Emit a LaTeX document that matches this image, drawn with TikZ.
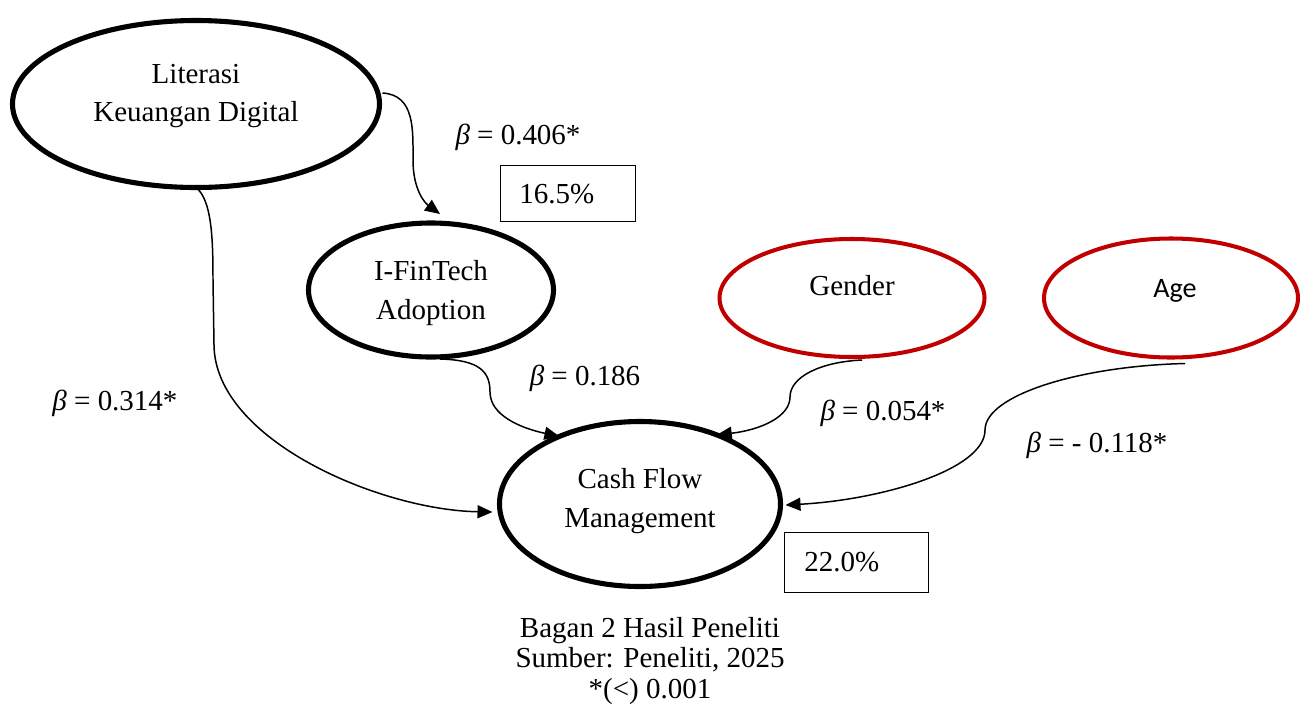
\documentclass[tikz,border=0pt]{standalone}
\usepackage{fontspec}
\setmainfont{Liberation Serif}
\newfontfamily\agefont{Carlito}
\usetikzlibrary{shapes.geometric,arrows.meta}
\definecolor{dred}{HTML}{C00000}
\begin{document}
\begin{tikzpicture}[x=0.02cm,y=-0.02cm,
  every node/.style={font=\fontsize{16.5}{22}\selectfont},
  blackell/.style={ellipse,draw=black,line width=2.9pt,inner sep=0pt,outer sep=0pt},
  redell/.style={ellipse,draw=dred,line width=2.3pt,inner sep=0pt,outer sep=0pt},
  lbl/.style={align=center,inner sep=0pt},
  valbox/.style={draw,line width=0.55pt,inner sep=0pt,minimum height=56*0.02cm},
  conn/.style={line width=0.85pt,-{Triangle[length=0.3cm,width=0.26cm]}}]
\useasboundingbox (0,0) rectangle (1300,707);
% ellipses
\node[blackell,minimum width=367*0.02cm,minimum height=167*0.02cm] (lit) at (196,104) {};
\node[lbl] (littext) at (196,96) {Literasi\\Keuangan Digital};
\node[blackell,minimum width=245*0.02cm,minimum height=134*0.02cm] (fin) at (431,290) {};
\node[lbl] (fintext) at (431,293) {I-FinTech\\Adoption};
\node[redell,minimum width=265*0.02cm,minimum height=118*0.02cm] (gen) at (852,298) {};
\node[lbl] (gentext) at (852,286) {Gender};
\node[redell,minimum width=254*0.02cm,minimum height=119*0.02cm] (age) at (1171,298) {};
\node[lbl,font=\agefont\fontsize{16}{20}\selectfont] (agetext) at (1175,291) {Age};
\node[blackell,minimum width=281*0.02cm,minimum height=165*0.02cm] (cfm) at (640,504) {};
\node[lbl] (cfmtext) at (640,501) {Cash Flow\\Management};
% boxes
\node[valbox,minimum width=135*0.02cm] (box1) at (567.5,193) {};
\node[lbl,anchor=west] (box1text) at (519,194) {16.5\%};
\node[valbox,minimum width=144*0.02cm,minimum height=60*0.02cm] (box2) at (856,562) {};
\node[lbl,anchor=west] (box2text) at (804,562) {22.0\%};
% beta labels
\node[lbl] (b1) at (518,137) {\textit{β} = 0.406*};
\node[lbl] (b2) at (115,403) {\textit{β} = 0.314*};
\node[lbl] (b3) at (585,378) {\textit{β} = 0.186};
\node[lbl] (b4) at (883,413) {\textit{β} = 0.054*};
\node[lbl] (b5) at (1097,445) {\textit{β} = - 0.118*};
% caption
\node[lbl,font=\fontsize{16.5}{17.2}\selectfont] (cap) at (650,661) {Bagan 2 Hasil Peneliti\\Sumber: Peneliti, 2025\\*(\textless) 0.001};
% connectors
\draw[conn] ([shift={(3,-11)}]lit.east) .. controls (415,95) and (413,130) .. (413,160)
  .. controls (413,190) and (425,203) .. ([shift={(9,-9)}]fin.north);
\draw[conn] (lit.south) .. controls (212,200) and (213,240) .. (213,280) -- (214,345)
  .. controls (215,440) and (380,510) .. ([shift={(-7,8)}]cfm.west);
\draw[conn] ([shift={(9,2)}]fin.south) .. controls (480,360) and (490,372) .. (490,392)
  .. controls (490,415) and (520,428) .. (cfm.140);
\draw[conn] ([shift={(10,3)}]gen.south) .. controls (820,362) and (790,377) .. (790,397)
  .. controls (790,417) and (760,430) .. (cfm.42);
\draw[conn] ([shift={(14,6)}]age.south) .. controls (1080,366) and (985,395) .. (985,430)
  .. controls (985,470) and (880,500) .. ([shift={(5,1)}]cfm.east);
\end{tikzpicture}
\end{document}
